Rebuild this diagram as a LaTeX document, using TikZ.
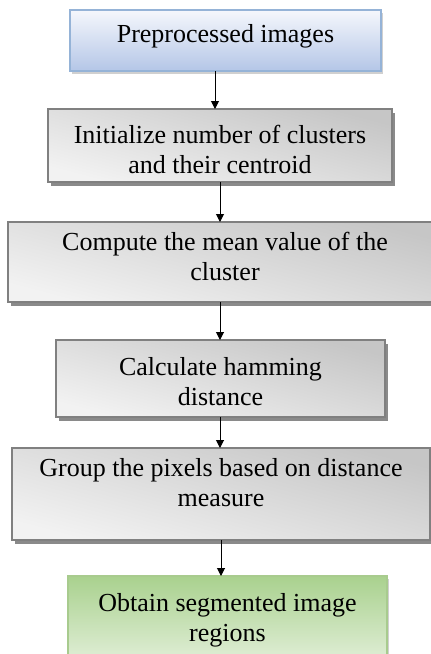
\documentclass[tikz,border=0pt]{standalone}
\usepackage{fontspec}
\setmainfont{Liberation Serif}
\usetikzlibrary{arrows.meta,shadows}
\definecolor{bluetop}{HTML}{F5F7FC}
\definecolor{bluebot}{HTML}{B4C6E7}
\definecolor{blueedge}{HTML}{95B3D7}
\definecolor{blueshadow}{HTML}{D0D0D0}
\definecolor{graytop}{HTML}{C6C6C6}
\definecolor{graybot}{HTML}{F2F2F2}
\definecolor{grayedge}{HTML}{808080}
\definecolor{shadowgray}{HTML}{8A8A8A}
\definecolor{greentop}{HTML}{A9D18E}
\definecolor{greenbot}{HTML}{E6F1DE}
\definecolor{greenedge}{HTML}{A8CB8E}
\newcommand{\btxt}[4]{\parbox[c][#2pt][t]{#1pt}{\centering\vspace*{#3pt}#4\par}}
\tikzset{
  base/.style={rectangle, inner sep=0pt, outer sep=0pt, text=black,
    font=\fontsize{26}{30}\selectfont},
  bluebox/.style={base, draw=blueedge, line width=1.4pt,
    top color=bluetop, bottom color=bluebot,
    drop shadow={shadow xshift=2pt, shadow yshift=-3pt, fill=blueshadow, opacity=1}},
  graybox/.style={base, draw=grayedge, line width=1.6pt,
    top color=graytop, bottom color=graybot, shading angle=-15,
    drop shadow={shadow xshift=3pt, shadow yshift=-4pt, fill=shadowgray, opacity=1}},
  greenbox/.style={base, draw=greenedge, line width=1.2pt,
    top color=greentop, bottom color=greenbot,
    drop shadow={shadow xshift=2pt, shadow yshift=-3pt, fill=blueshadow, opacity=1}},
  arr/.style={line width=1pt, draw=black, -{Triangle[width=8pt,length=8pt]}}
}
\begin{document}
\begin{tikzpicture}[x=1pt,y=-1pt]
\useasboundingbox (0,0) rectangle (431,654);
\clip (0,0) rectangle (431,654);
\node[bluebox] (b1) at (225.5,40.5) {\btxt{311}{61}{14}{Preprocessed images}};
\node[graybox] (b2) at (220,145.5) {\btxt{344}{73}{16}{Initialize number of clusters\\and their centroid}};
\node[graybox] (b3) at (225,262) {\btxt{434}{80}{10}{Compute the mean value of the\\cluster}};
\node[graybox] (b4) at (220.5,378.5) {\btxt{329}{77}{17}{Calculate hamming\\distance}};
\node[graybox] (b5) at (221,494) {\btxt{418}{92}{10}{Group the pixels based on distance\\measure}};
\node[greenbox] (b6) at (227.5,623) {\btxt{319}{94}{17}{Obtain segmented image\\regions}};
\coordinate (ax1) at (215,0);
\coordinate (ax2) at (220,0);
\coordinate (ax3) at (221,0);
\draw[arr] (b1.south -| ax1) -- (b2.north -| ax1);
\draw[arr] (b2.south -| ax2) -- (b3.north -| ax2);
\draw[arr] (b3.south -| ax2) -- (b4.north -| ax2);
\draw[arr] (b4.south -| ax2) -- (b5.north -| ax2);
\draw[arr] (b5.south -| ax3) -- (b6.north -| ax3);
\end{tikzpicture}
\end{document}
